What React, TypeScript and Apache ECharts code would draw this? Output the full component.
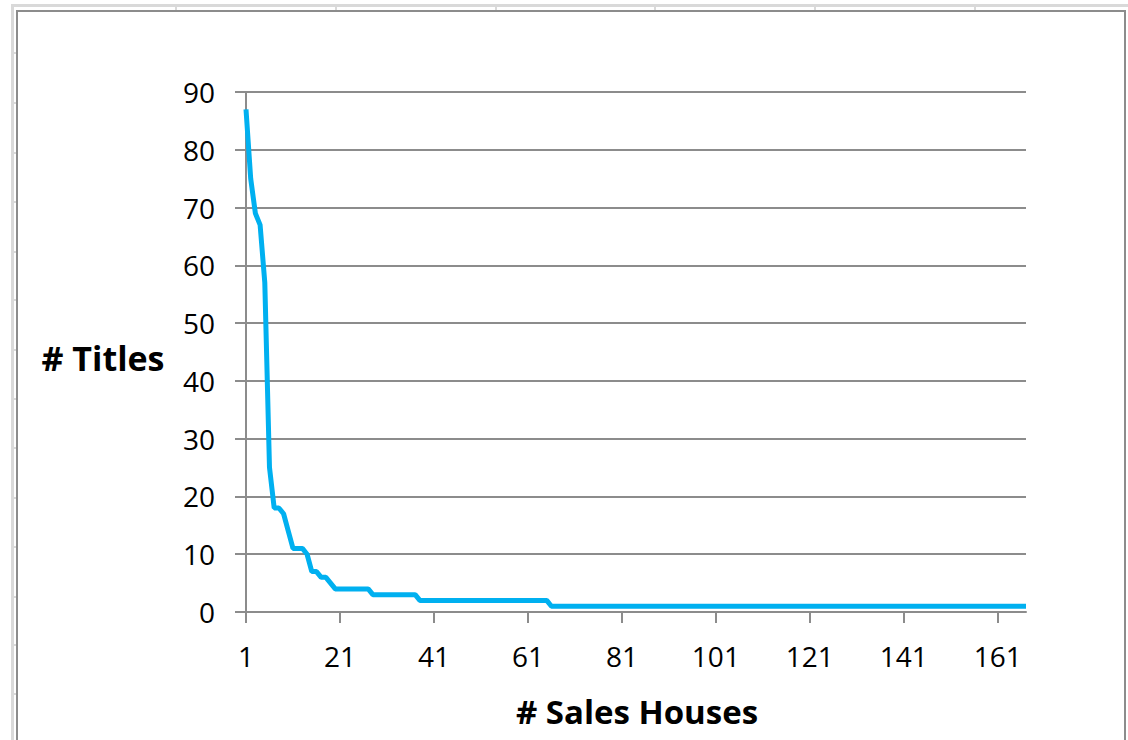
import React, { useEffect, useRef } from "react";
import * as echarts from "echarts";

// Number of titles per sales house, ranked (sales houses 1..167)
const headValues: number[] = [87, 75, 69, 67, 57, 25, 18, 18, 17, 14, 11, 11, 11, 10, 7, 7, 6, 6, 5];
// Runs of constant values for the long tail: [value, count]
const tailRuns: [number, number][] = [
  [4, 8],   // houses 20..27
  [3, 10],  // houses 28..37
  [2, 28],  // houses 38..65
  [1, 102], // houses 66..167
];
const yTicks: number[] = [0, 10, 20, 30, 40, 50, 60, 70, 80, 90];
const xAxisTitle = "# Sales Houses";
const yAxisTitle = "# Titles";

const seriesValues: number[] = [...headValues];
tailRuns.forEach(([v, n]) => {
  for (let i = 0; i < n; i++) seriesValues.push(v);
});
const categories: string[] = seriesValues.map((_, i) => String(i + 1));

export default function App() {
  const ref = useRef<HTMLDivElement>(null);
  useEffect(() => {
    if (!ref.current) return;
    const chart = echarts.init(ref.current, null, { renderer: "svg" });
    const gridColor = "#8c8c8c";
    const font = "'Open Sans', 'Noto Sans', sans-serif";
    const colTicks = [176, 336, 496, 655, 815, 975];
    const rowTicks = [53, 103, 153, 202, 252, 300, 350, 399, 448, 498, 547, 597, 645, 694];
    const graphics: any[] = [
      { type: "line", shape: { x1: 11, y1: 5.5, x2: 1128, y2: 5.5 }, style: { stroke: "#d9d9d9", lineWidth: 3 } },
      { type: "line", shape: { x1: 12.5, y1: 4, x2: 12.5, y2: 740 }, style: { stroke: "#d9d9d9", lineWidth: 3 } },
      ...colTicks.map((x) => ({ type: "line", shape: { x1: x, y1: 4, x2: x, y2: 10 }, style: { stroke: "#d9d9d9", lineWidth: 2 } })),
      ...rowTicks.map((y) => ({ type: "line", shape: { x1: 11, y1: y, x2: 16, y2: y }, style: { stroke: "#d9d9d9", lineWidth: 2 } })),
      { type: "rect", shape: { x: 17, y: 11, width: 1108, height: 740 }, style: { fill: "none", stroke: "#8c8c8c", lineWidth: 2 } },
      {
        type: "text", x: 103, y: 358,
        style: { text: yAxisTitle, font: `bold 34px ${font}`, fill: "#000", align: "center", verticalAlign: "middle" },
      },
      {
        type: "text", x: 637, y: 711,
        style: { text: xAxisTitle, font: `bold 33px ${font}`, fill: "#000", align: "center", verticalAlign: "middle" },
      },
    ];
    chart.setOption({
      animation: false,
      backgroundColor: "#ffffff",
      grid: { left: 246, right: 102, top: 92, bottom: 128, containLabel: false },
      xAxis: {
        type: "category",
        data: categories,
        boundaryGap: false,
        axisLine: { show: true, lineStyle: { color: gridColor, width: 2 } },
        axisTick: { show: true, interval: 19, length: 11, lineStyle: { color: gridColor, width: 2 } },
        axisLabel: { interval: 19, color: "#000", fontFamily: font, fontSize: 28, margin: 30 },
        splitLine: { show: false },
      },
      yAxis: {
        type: "value",
        min: 0,
        max: yTicks[yTicks.length - 1],
        interval: 10,
        axisLine: { show: true, lineStyle: { color: gridColor, width: 2 } },
        axisTick: { show: true, length: 11, lineStyle: { color: gridColor, width: 2 } },
        axisLabel: { color: "#000", fontFamily: font, fontSize: 28, margin: 31 },
        splitLine: { show: true, lineStyle: { color: gridColor, width: 2 } },
      },
      series: [
        {
          type: "line",
          data: seriesValues,
          showSymbol: false,
          symbol: "none",
          lineStyle: { color: "#00b0f0", width: 5 },
          itemStyle: { color: "#00b0f0" },
        },
      ],
      graphic: graphics,
    });
    return () => chart.dispose();
  }, []);
  return (
    <div
      ref={ref}
      style={{ position: "absolute", left: 0, top: 0, width: 1128, height: 740, background: "#fff" }}
    />
  );
}
